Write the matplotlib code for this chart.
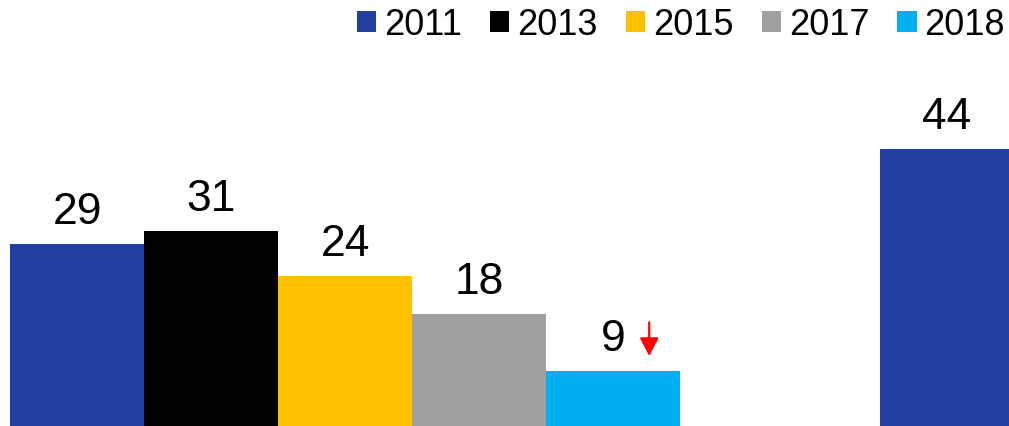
import matplotlib
matplotlib.use('Agg')
import matplotlib.pyplot as plt
import numpy as np

plt.rcParams['font.family'] = ['Liberation Sans', 'DejaVu Sans']

years = ['2011', '2013', '2015', '2017', '2018']
colors = ['#233f9f', '#000000', '#ffc000', '#a0a0a0', '#00b0f0']
# two groups, only the first one fully visible; second group cut off at the right edge
group1 = [29, 31, 24, 18, 9]
group2 = [44, np.nan, np.nan, np.nan, np.nan]

group_gap = 6.49   # distance between group starts, in bar widths

fig = plt.figure(figsize=(10.09, 4.27), dpi=100)
ax = fig.add_axes([0, 0, 1, 1])

for i, (yr, c) in enumerate(zip(years, colors)):
    xs = np.array([i, group_gap + i])
    vals = np.array([group1[i], group2[i]])
    ax.bar(xs, vals, width=1.0, color=c, label=yr)
    for x, v in zip(xs, vals):
        if np.isnan(v):
            continue
        ax.annotate('%d' % v, (x, v), xytext=(0, 15), textcoords='offset points',
                    ha='center', va='baseline', fontsize=32)

# red down arrow next to the 2018 value
xa = 4 + 0.27
ax.annotate('', xy=(xa, group1[4] + 2.33), xytext=(xa, group1[4] + 7.64),
            arrowprops=dict(arrowstyle='-|>,head_length=0.5,head_width=0.26',
                            color='red', lw=1.6, mutation_scale=22,
                            shrinkA=0, shrinkB=0))

ax.set_xlim(-0.575, 6.955)
ax.set_ylim(0.3, 67.6)
ax.axis('off')

leg = ax.legend(loc='upper right', bbox_to_anchor=(1005 / 1009, 1 - 8 / 427),
                ncol=5, frameon=False, fontsize=26,
                handlelength=0.53, handleheight=0.53, handletextpad=0.22,
                columnspacing=0.78, borderaxespad=0.0, borderpad=0.0)

fig.savefig('out.png', dpi=100)
